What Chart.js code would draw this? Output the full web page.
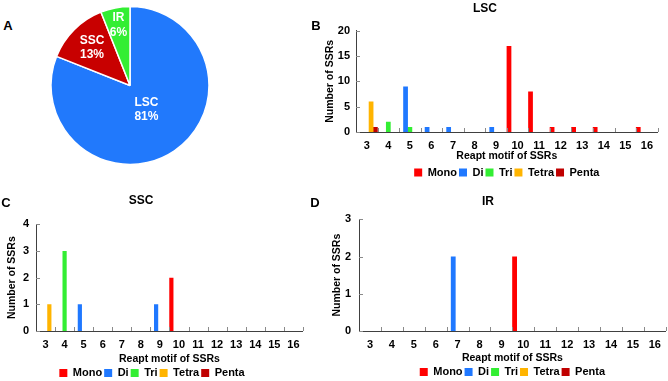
<!DOCTYPE html>
<html>
<head>
<meta charset="utf-8">
<script src="https://cdn.jsdelivr.net/npm/chart.js@4.4.1/dist/chart.umd.min.js"></script>
<style>
  html, body { margin:0; padding:0; background:#fff; }
  body { width:668px; height:381px; position:relative; overflow:hidden; font-family:'Liberation Sans', Arial, sans-serif; }
  canvas { position:absolute; }
  .txt { position:absolute; font-weight:bold; color:#000; line-height:1; transform:translate(-50%,-50%); white-space:nowrap; }
  .letter { font-size:13px; }
  .ttl { font-size:12px; }
</style>
</head>
<body>
<canvas id="pieA" width="180" height="171" style="left:40px;top:0px"></canvas>
<canvas id="barB" width="350" height="188" style="left:310px;top:0px"></canvas>
<canvas id="barC" width="310" height="204" style="left:-3px;top:185px"></canvas>
<canvas id="barD" width="360" height="203" style="left:308px;top:185px"></canvas>

<div class="txt letter" style="left:8px;top:25px">A</div>
<div class="txt letter" style="left:316px;top:25px">B</div>
<div class="txt letter" style="left:6px;top:202px">C</div>
<div class="txt letter" style="left:315px;top:202px">D</div>
<div class="txt ttl" style="left:485px;top:8px">LSC</div>
<div class="txt ttl" style="left:141px;top:200px">SSC</div>
<div class="txt ttl" style="left:488px;top:201px">IR</div>

<script>
// ---------- data ----------
const regions = ['LSC', 'SSC', 'IR'];
const regionShares = [81, 13, 6];

const categories = ['3','4','5','6','7','8','9','10','11','12','13','14','15','16'];
const seriesNames = ['Mono', 'Di', 'Tri', 'Tetra', 'Penta'];

// LSC
const lscMono  = [0,0,0,0,0,0,0,17,8,1,1,1,0,1];
const lscDi    = [0,0,9,1,1,0,1,0,0,0,0,0,0,0];
const lscTri   = [0,2,1,0,0,0,0,0,0,0,0,0,0,0];
const lscTetra = [6,0,0,0,0,0,0,0,0,0,0,0,0,0];
const lscPenta = [1,0,0,0,0,0,0,0,0,0,0,0,0,0];
// SSC
const sscMono  = [0,0,0,0,0,0,0,2,0,0,0,0,0,0];
const sscDi    = [0,0,1,0,0,0,1,0,0,0,0,0,0,0];
const sscTri   = [0,3,0,0,0,0,0,0,0,0,0,0,0,0];
const sscTetra = [1,0,0,0,0,0,0,0,0,0,0,0,0,0];
const sscPenta = [0,0,0,0,0,0,0,0,0,0,0,0,0,0];
// IR
const irMono   = [0,0,0,0,0,0,0,2,0,0,0,0,0,0];
const irDi     = [0,0,0,0,2,0,0,0,0,0,0,0,0,0];
const irTri    = [0,0,0,0,0,0,0,0,0,0,0,0,0,0];
const irTetra  = [0,0,0,0,0,0,0,0,0,0,0,0,0,0];
const irPenta  = [0,0,0,0,0,0,0,0,0,0,0,0,0,0];

// ---------- styles ----------
const seriesColors = ['#ff0000', '#1f78ff', '#33ee33', '#ffb400', '#c00000'];
const regionColors = ['#2179fc', '#c80000', '#33ee33'];

Chart.defaults.font.family = "'Liberation Sans', Arial, sans-serif";
Chart.defaults.font.weight = 'bold';
Chart.defaults.color = '#000';

// short inner ticks (y ticks pointing right, x category boundaries pointing up)
const innerTicks = {
  id: 'innerTicks',
  afterDatasetsDraw(chart) {
    const {ctx, chartArea, scales} = chart;
    const x = scales.x, y = scales.y;
    ctx.save();
    ctx.strokeStyle = '#8a8a8a';
    ctx.lineWidth = 1;
    y.ticks.forEach((t, i) => {
      const py = Math.round(y.getPixelForTick(i)) + 0.5;
      ctx.beginPath();
      ctx.moveTo(chartArea.left, py);
      ctx.lineTo(chartArea.left + 4, py);
      ctx.stroke();
    });
    const n = x.ticks.length;
    const step = n > 1 ? x.getPixelForTick(1) - x.getPixelForTick(0) : 0;
    for (let i = 1; i <= n; i++) {
      const px = Math.round(x.getPixelForTick(i - 1) + step / 2) + 0.5;
      ctx.beginPath();
      ctx.moveTo(px, chartArea.bottom);
      ctx.lineTo(px, chartArea.bottom - 4);
      ctx.stroke();
    }
    ctx.restore();
  }
};

function barChart(id, series, cfg) {
  return new Chart(document.getElementById(id), {
    type: 'bar',
    data: {
      labels: categories,
      datasets: seriesNames.map((name, i) => ({
        label: name,
        data: series[i],
        backgroundColor: seriesColors[i],
        borderWidth: 0,
        barPercentage: 1.1,
        categoryPercentage: 1.0
      }))
    },
    options: {
      responsive: false,
      animation: false,
      devicePixelRatio: 1,
      layout: { padding: cfg.pad },
      plugins: {
        legend: {
          position: 'bottom',
          fullSize: cfg.legendFull,
          labels: { boxWidth: 8, boxHeight: 8, padding: 2, color: '#000', font: { size: 11, weight: 'bold' } }
        },
        tooltip: { enabled: false },
        title: { display: false }
      },
      scales: {
        x: {
          grid: { display: false, drawTicks: false },
          border: { display: true, color: '#404040', width: 1 },
          ticks: { color: '#000', padding: cfg.xTickPad, maxRotation: 0, autoSkip: false, font: { size: 11, weight: 'bold' } },
          title: { display: true, text: 'Reapt motif of SSRs', color: '#000', font: { size: 10.5, weight: 'bold' }, padding: { top: 0, bottom: cfg.xTitlePad } },
          afterFit: s => { s.height = cfg.xH; }
        },
        y: {
          min: 0, max: cfg.max,
          grid: { display: false, drawTicks: false },
          border: { display: true, color: '#404040', width: 1 },
          ticks: { stepSize: cfg.step, color: '#000', padding: cfg.yTickPad, font: { size: 11, weight: 'bold' } },
          title: { display: true, text: 'Number of SSRs', color: '#000', font: { size: 10.5, weight: 'bold' }, padding: { top: cfg.yTitlePad, bottom: 0 } },
          afterFit: s => { s.width = cfg.yW; }
        }
      }
    },
    plugins: [innerTicks]
  });
}

barChart('barB', [lscMono, lscDi, lscTri, lscTetra, lscPenta], {
  pad: { left: 0, right: 0, top: 30.7, bottom: 0 },
  legendFull: false, xH: 33, xTickPad: 7, xTitlePad: 2.7,
  yW: 46, yTickPad: 6, yTitlePad: 13.7, max: 20, step: 5
});
barChart('barC', [sscMono, sscDi, sscTri, sscTetra, sscPenta], {
  pad: { left: 0, right: 0, top: 39.3, bottom: 0.5 },
  legendFull: true, xH: 34.5, xTickPad: 7.5, xTitlePad: 0,
  yW: 39, yTickPad: 7, yTitlePad: 8.4, max: 4, step: 1
});
barChart('barD', [irMono, irDi, irTri, irTetra, irPenta], {
  pad: { left: 0, right: 1, top: 34.3, bottom: 0.5 },
  legendFull: false, xH: 33.5, xTickPad: 7, xTitlePad: 0.2,
  yW: 51, yTickPad: 8, yTitlePad: 22.7, max: 3, step: 1
});

// ---------- pie ----------
const pieLabels = {
  id: 'pieLabels',
  afterDatasetsDraw(chart, args, opts) {
    const meta = chart.getDatasetMeta(0);
    const ctx = chart.ctx;
    ctx.save();
    ctx.fillStyle = '#fff';
    ctx.font = "bold 12px 'Liberation Sans', Arial, sans-serif";
    ctx.textAlign = 'center';
    ctx.textBaseline = 'middle';
    meta.data.forEach((arc, i) => {
      const p = arc.getProps(['x', 'y', 'startAngle', 'endAngle', 'outerRadius'], true);
      const mid = (p.startAngle + p.endAngle) / 2;
      const r = p.outerRadius * opts.radial[i];
      const cx = p.x + Math.cos(mid) * r;
      const cy = p.y + Math.sin(mid) * r;
      ctx.fillText(chart.data.labels[i], cx, cy - 7.3);
      ctx.fillText(chart.data.datasets[0].data[i] + '%', cx, cy + 7.3);
    });
    ctx.restore();
  }
};

new Chart(document.getElementById('pieA'), {
  type: 'pie',
  data: {
    labels: regions,
    datasets: [{ data: regionShares, backgroundColor: regionColors, borderColor: '#fff', borderWidth: 1.5 }]
  },
  options: {
    responsive: false,
    animation: false,
    devicePixelRatio: 1,
    radius: 79,
    plugins: {
      legend: { display: false },
      tooltip: { enabled: false },
      pieLabels: { radial: [0.37, 0.68, 0.78] }
    }
  },
  plugins: [pieLabels]
});
</script>
</body>
</html>
